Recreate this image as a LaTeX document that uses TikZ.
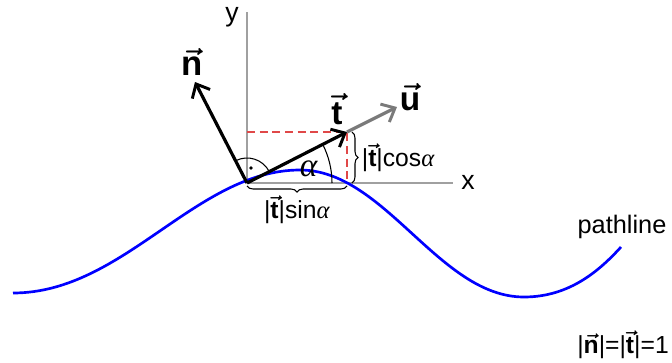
\documentclass[tikz,border=0pt]{standalone}
\usepackage{fontspec}
\setmainfont{Liberation Sans}
\newfontfamily\grkfont{Liberation Serif}
\usepackage{tikz}
\usetikzlibrary{arrows.meta, decorations.pathreplacing, calc}
\definecolor{myBlue}{HTML}{0000FF}
\definecolor{myGray}{HTML}{A0A0A0}
\definecolor{myDarkGray}{HTML}{7A7A7A}
\definecolor{myRed}{HTML}{E04848}
\newcommand{\vb}[1]{\mbox{\boldmath$\vec{\mbox{\bfseries #1}}$}}
\newcommand{\alp}{{\grkfont\itshape α\/}}

\begin{document}
\begin{tikzpicture}[x=0.75pt, y=0.75pt,
  axis/.style={myGray, line width=0.9pt},
  vecline/.style={line width=2.4pt, -{Straight Barb[length=8.5pt, width=15pt, line width=2.2pt]}},
  helper/.style={myRed, line width=0.9pt, dash pattern=on 6pt off 3.5pt},
  curly/.style={decorate, decoration={brace, amplitude=4.5pt}, line width=0.8pt},
  lbl/.style={font=\fontsize{18.5}{22}\selectfont, inner sep=1pt},
  veclbl/.style={font=\fontsize{25}{30}\selectfont, inner sep=1pt}
]
\useasboundingbox (0,0) rectangle (672,362);
\coordinate (O) at (247,179);
\coordinate (ytop) at (247,350);
\coordinate (xend) at (453,179);
\coordinate (T) at (347,230);
\coordinate (U) at (397,255);
\coordinate (N) at (195,280);
\coordinate (Tx) at (347,179);
\coordinate (Ty) at (247,230);

% axes
\draw[axis] (O) -- (ytop);
\draw[axis] (O) -- (xend);
\node[font=\fontsize{20}{24}\selectfont] (ylbl) at (232,345) {y};
\node[font=\fontsize{20}{24}\selectfont] (xlbl) at (468,180) {x};

% pathline
\draw[myBlue, line width=2pt] (13,69) .. controls (124,69) and (196,192) .. (300,192)
  .. controls (385,192) and (439,65) .. (524,65)
  .. controls (570,65) and (600,92) .. (621,115);
\node[font=\fontsize{19}{22}\selectfont] (path) at (622,135) {pathline};

% projections
\draw[helper] (Ty) -- (T) -- (Tx);
\draw[curly] ($(T)+(5,0)$) -- ($(Tx)+(5,0)$)
  node[lbl, midway, right=6pt] (cos) {|\vb{t}|cos\alp};
\draw[curly] ($(Tx)+(0,-3)$) -- ($(O)+(0,-3)$)
  node[lbl, midway, below=6pt] (sin) {|\vb{t}|sin\alp};

% angles
\draw[line width=0.8pt] ($(O)+(85,0)$) arc[start angle=0, end angle=27, radius=85];
\node[font=\fontsize{25}{30}\selectfont] (alpha) at (309,193) {\alp};
\draw[line width=0.8pt] ($(O)+(27:25)$) arc[start angle=27, end angle=117, radius=25];
\fill (251,194) circle (1.8);

% vectors
\draw[vecline, myDarkGray] (T) -- (U);
\draw[vecline] (O) -- (T);
\draw[vecline] (O) -- (N);
\node[veclbl] (tlbl) at (337,253) {\vb{t}};
\node[veclbl] (ulbl) at (410,265) {\vb{u}};
\node[font=\fontsize{26}{30}\selectfont, inner sep=1pt] (nlbl) at (192,300) {\vb{n}};

\node[lbl] (norm) at (623,17) {|\vb{n}|=|\vb{t}|=1};
\end{tikzpicture}
\end{document}
